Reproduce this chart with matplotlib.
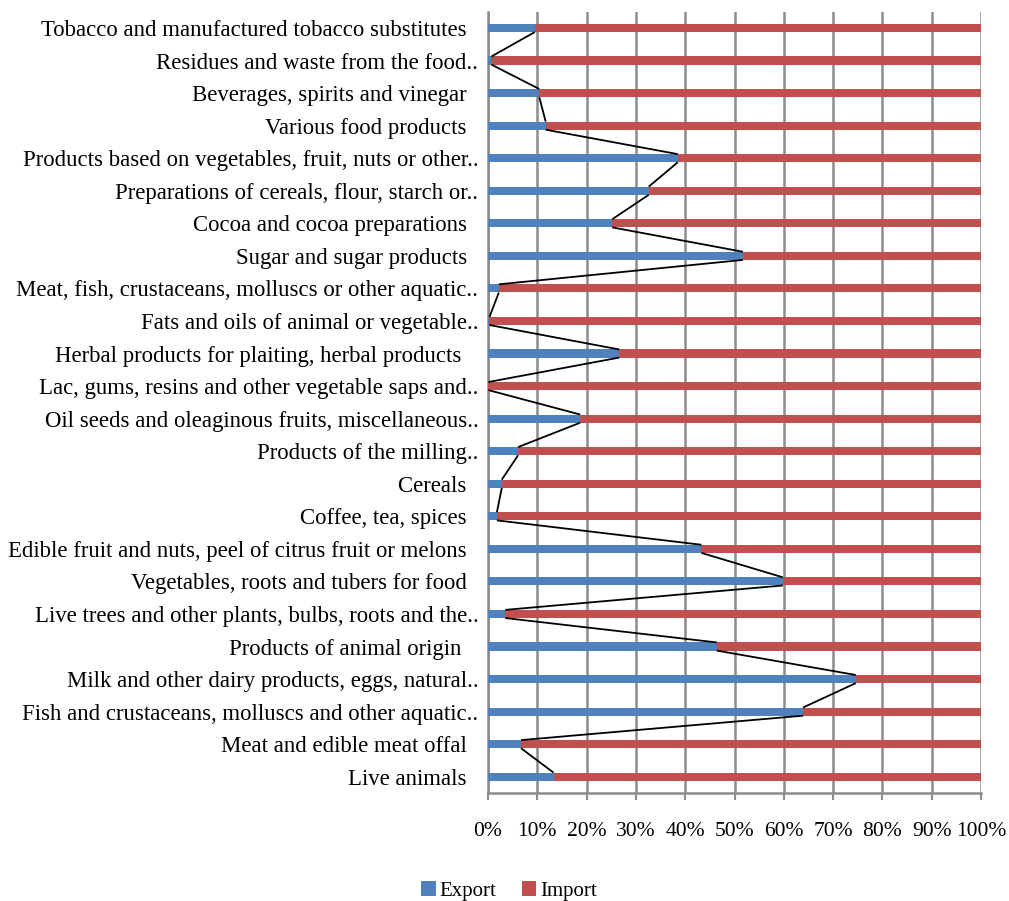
import matplotlib
matplotlib.use("Agg")
import matplotlib.pyplot as plt
import numpy as np

# Product groups, listed from the top row to the bottom row
categories = [
    "Tobacco and manufactured tobacco substitutes  ",
    "Residues and waste from the food..",
    "Beverages, spirits and vinegar  ",
    "Various food products  ",
    "Products based on vegetables, fruit, nuts or other..",
    "Preparations of cereals, flour, starch or..",
    "Cocoa and cocoa preparations  ",
    "Sugar and sugar products  ",
    "Meat, fish, crustaceans, molluscs or other aquatic..",
    "Fats and oils of animal or vegetable..",
    "Herbal products for plaiting, herbal products   ",
    "Lac, gums, resins and other vegetable saps and..",
    "Oil seeds and oleaginous fruits, miscellaneous..",
    "Products of the milling..",
    "Cereals  ",
    "Coffee, tea, spices  ",
    "Edible fruit and nuts, peel of citrus fruit or melons  ",
    "Vegetables, roots and tubers for food  ",
    "Live trees and other plants, bulbs, roots and the..",
    "Products of animal origin   ",
    "Milk and other dairy products, eggs, natural..",
    "Fish and crustaceans, molluscs and other aquatic..",
    "Meat and edible meat offal  ",
    "Live animals  ",
]

# Share of exports in total trade (%)
export_share = [9.5, 0.7, 10.4, 11.7, 38.5, 32.6, 25.2, 51.7, 2.2, 0.3, 26.6, 0.1,
                18.7, 6.1, 2.8, 1.8, 43.3, 59.8, 3.5, 46.4, 74.6, 63.9, 6.7, 13.3]
import_share = [100 - v for v in export_share]

tick_values = list(range(0, 101, 10))
tick_labels = [f"{v}%" for v in tick_values]

blue = "#4F81BD"
red = "#C0504D"
grid_gray = "#8C8C8C"

plt.rcParams["font.family"] = ["Liberation Serif", "DejaVu Serif"]

fig = plt.figure(figsize=(10.09, 9.01), dpi=100)
ax = fig.add_axes([488 / 1009, 1 - 793 / 901, (981 - 488) / 1009, (793 - 11.7) / 901])

y = np.arange(len(categories))
h = 0.25
ax.barh(y, export_share, height=h, color=blue, label="Export", zorder=3)
ax.barh(y, import_share, left=export_share, height=h, color=red, label="Import", zorder=3)

# Series lines joining the ends of the Export segments of neighbouring bars
for i in range(len(categories) - 1):
    ax.plot([export_share[i], export_share[i + 1]], [y[i] + h / 2, y[i + 1] - h / 2],
            color="black", lw=1.3, zorder=4, solid_capstyle="butt")

ax.set_xlim(0, 100)
ax.set_ylim(len(categories) - 0.5, -0.5)
ax.set_xticks(tick_values)
ax.set_xticklabels(tick_labels, fontsize=15.5)
ax.set_yticks(y)
ax.set_yticklabels(categories, fontsize=16.4)

ax.xaxis.grid(True, color=grid_gray, lw=1.8, zorder=0)
ax.set_axisbelow(True)
ax.tick_params(axis="x", length=5, width=1.5, color=grid_gray, pad=16)
ax.tick_params(axis="y", length=0, pad=7)

for side in ("top", "right"):
    ax.spines[side].set_visible(False)
for side in ("left", "bottom"):
    ax.spines[side].set_color(grid_gray)
    ax.spines[side].set_linewidth(1.8)

fig.legend(loc="center", bbox_to_anchor=(509 / 1009, 1 - 891 / 901), ncol=2,
           frameon=False, fontsize=15, handlelength=0.7, handleheight=0.7,
           handletextpad=0.2, columnspacing=1.2)

fig.savefig("out.png", dpi=100)
